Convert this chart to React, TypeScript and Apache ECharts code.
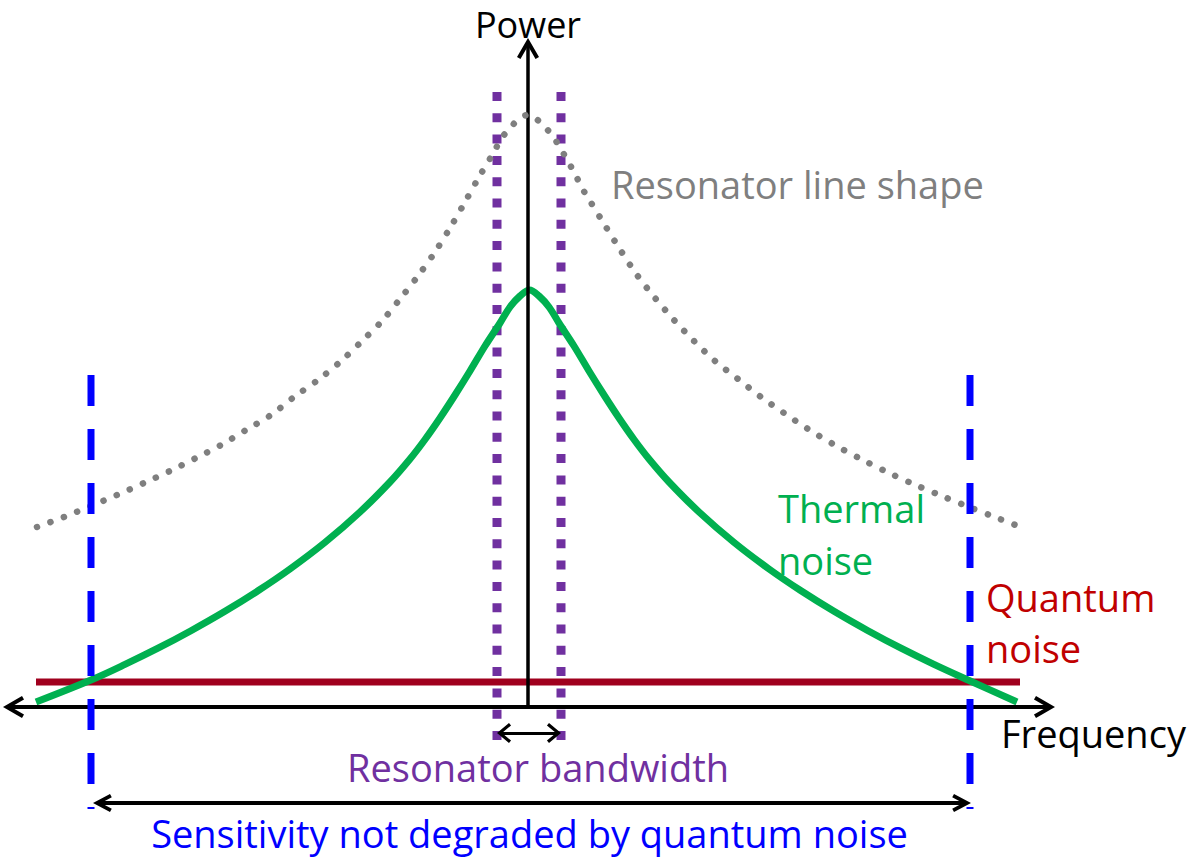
import React, { useEffect, useRef } from "react";
import * as echarts from "echarts";

// Frequency offset from the resonance (1 unit = 10 px), power (1 unit = 10 px above the frequency axis)
const resonatorFreq = [
  -49.1, -46.4, -43.7, -41.1, -38.4, -35.8, -33.2, -30.7, -28.2, -25.7, -23.4, -21.0, -18.8, -16.7,
  -14.6, -12.8, -11.0, -9.3, -7.8, -6.3, -4.9, -3.4, -2.7, -1.8, -0.8, 0.0,
  0.7, 1.7, 2.6, 3.4, 4.1, 4.8, 5.4, 6.2, 7.8, 9.3, 10.9, 12.7, 14.6, 16.6, 18.7, 21.0, 23.3,
  25.6, 28.0, 30.5, 33.1, 35.7, 38.3, 40.9, 43.6, 46.4, 49.0,
];
const resonatorPower = [
  18.0, 19.0, 20.1, 21.2, 22.4, 23.6, 24.9, 26.2, 27.7, 29.2, 31.0, 32.7, 34.5, 36.5,
  38.6, 40.8, 43.1, 45.5, 47.9, 50.5, 53.0, 55.5, 56.8, 57.9, 58.9, 59.2,
  58.9, 58.0, 56.9, 55.6, 54.4, 53.1, 51.9, 50.6, 48.0, 45.6, 43.2, 40.9, 38.7, 36.6, 34.6, 32.8, 31.0,
  29.4, 27.8, 26.3, 24.9, 23.6, 22.4, 21.3, 20.2, 19.1, 18.1,
];

const thermalFreq = [
  -49.2, -43.7, -40.3, -37.0, -33.7, -30.3, -27.0, -23.8, -20.3, -16.8, -13.8, -11.8, -10.3, -8.8,
  -7.3, -5.8, -4.3, -2.8, -1.8, -0.8, 0.15,
  1.1, 2.1, 3.1, 4.6, 6.1, 7.6, 9.1, 10.6, 12.1, 14.1, 17.1, 20.6, 24.1, 27.3, 30.6, 34.0,
  37.3, 40.6, 44.0, 48.9,
];
const thermalPower = [
  0.5, 2.7, 4.26, 5.88, 7.63, 9.57, 11.62, 13.8, 16.46, 19.5, 22.5, 24.8, 26.75, 28.9,
  31.2, 33.6, 36.1, 38.4, 40.0, 41.1, 41.7,
  41.1, 40.0, 38.4, 36.1, 33.6, 31.2, 28.9, 26.75, 24.8, 22.5, 19.5, 16.46, 13.8, 11.62, 9.57, 7.63,
  5.88, 4.26, 2.7, 0.5,
];

const quantumFreq = [-49.2, 49.2];
const quantumPower = 2.5;

const bandwidthEdges = [-3.1, 3.3];
const bandwidthSpan = [61.5, -3.3];
const sensitivityEdges = [-43.7, 44.2];
const sensitivitySpan = [33.2, -10.2];

const freqAxisSpan = [-52.0, 52.2];
const powerAxisTop = 66.4;
const bandwidthArrow = { power: -2.6, freq: [-2.7, 2.9] };
const sensitivityArrow = { power: -9.6, freq: [-43.0, 43.8] };

const FONT = "'Open Sans', 'Noto Sans', sans-serif";

function chevron(hw: number, len: number, t: number, c: number) {
  const th = Math.atan2(hw, len);
  const ix = hw - t * Math.cos(th);
  const iy = len + t * Math.sin(th);
  const d = t / Math.sin(th);
  const H = iy;
  const top = 2 * c - H;
  const p =
    `path://M0,0 L${hw},${len} L${ix.toFixed(2)},${iy.toFixed(2)} L0,${d.toFixed(2)} ` +
    `L${(-ix).toFixed(2)},${iy.toFixed(2)} L${-hw},${len} Z ` +
    `M0,${top.toFixed(2)} L0.001,${top.toFixed(2)} Z`;
  return { symbol: p, symbolSize: [2 * hw, H - top] };
}

export default function App() {
  const ref = useRef<HTMLDivElement>(null);
  useEffect(() => {
    if (!ref.current) return;
    const chart = echarts.init(ref.current, undefined, { renderer: "svg" });
    const axisHead = chevron(11, 19, 4, 5);
    const smallHead = chevron(10, 12, 3.2, 4);
    const bigHead = chevron(9, 17, 3.8, 5);
    const base = {
      type: "line" as const,
      showSymbol: false,
      symbol: "none",
      silent: true,
      animation: false,
      emphasis: { disabled: true },
      clip: false,
    };
    const label = (text: string, x: number, y: number, fill: string, fontSize: number, align = "left") => ({
      type: "text",
      x,
      y,
      silent: true,
      style: { text, fill, fontSize, fontFamily: FONT, align, verticalAlign: "middle" },
    });
    chart.setOption({
      animation: false,
      backgroundColor: "#ffffff",
      grid: { left: 0, right: 0, top: 0, bottom: 0, containLabel: false },
      xAxis: { type: "value", min: -52.8, max: 66.8, show: false, splitLine: { show: false } },
      yAxis: { type: "value", min: -15.4, max: 70.7, show: false, splitLine: { show: false } },
      series: [
        {
          ...base,
          name: "axes",
          z: 1,
          data: [],
          markLine: {
            silent: true,
            animation: false,
            label: { show: false },
            emphasis: { disabled: true },
            symbol: ["none", "none"],
            lineStyle: { color: "#000000", width: 4, type: "solid" },
            data: [
              [
                { coord: [freqAxisSpan[0], 0], ...axisHead },
                { coord: [freqAxisSpan[1], 0], ...axisHead },
              ],
              [
                { coord: [0, 0], symbol: "none" },
                { coord: [0, powerAxisTop], ...axisHead, lineStyle: { width: 3.5 } },
              ],
              [
                { coord: [bandwidthArrow.freq[0], bandwidthArrow.power], ...smallHead, lineStyle: { width: 3 } },
                { coord: [bandwidthArrow.freq[1], bandwidthArrow.power], ...smallHead },
              ],
              [
                { coord: [sensitivityArrow.freq[0], sensitivityArrow.power], ...bigHead },
                { coord: [sensitivityArrow.freq[1], sensitivityArrow.power], ...bigHead },
              ],
            ],
          },
        },
        {
          ...base,
          name: "Quantum noise",
          z: 2,
          data: quantumFreq.map((f) => [f, quantumPower]),
          lineStyle: { color: "#a0001e", width: 7, cap: "butt" },
        },
        ...bandwidthEdges.map((f) => ({
          ...base,
          name: "Resonator bandwidth",
          z: 3,
          data: bandwidthSpan.map((p) => [f, p]),
          lineStyle: { color: "#7030a0", width: 9, type: [9, 12.3], cap: "butt" },
        })),
        {
          ...base,
          name: "Thermal noise",
          z: 4,
          smooth: 0.35,
          data: thermalFreq.map((f, i) => [f, thermalPower[i]]),
          lineStyle: { color: "#00b050", width: 7, cap: "butt" },
        },
        {
          ...base,
          name: "Resonator line shape",
          z: 5,
          smooth: 0.3,
          data: resonatorFreq.map((f, i) => [f, resonatorPower[i]]),
          lineStyle: { color: "#7f7f7f", width: 6.5, type: [0.1, 14.2], cap: "round" },
        },
        ...sensitivityEdges.map((f) => ({
          ...base,
          name: "Sensitivity",
          z: 6,
          data: sensitivitySpan.map((p) => [f, p]),
          lineStyle: { color: "#0000ff", width: 7, type: [31, 23], cap: "butt" },
        })),
      ],
      graphic: [
        label("Power", 528, 24.7, "#000000", 36, "center"),
        label("Resonator line shape", 611, 184.3, "#7f7f7f", 38),
        label("Thermal", 778, 508.3, "#00b050", 38),
        label("noise", 778, 560.3, "#00b050", 38),
        label("Quantum", 986, 597.3, "#c00000", 38),
        label("noise", 986, 648.3, "#c00000", 38),
        label("Frequency", 1001, 733.3, "#000000", 38),
        label("Resonator bandwidth", 538, 767.3, "#7030a0", 38, "center"),
        label("Sensitivity not degraded by quantum noise", 529.5, 833.3, "#0000ff", 38, "center"),
      ],
    });
    return () => chart.dispose();
  }, []);
  return (
    <div
      ref={ref}
      style={{ position: "absolute", left: 0, top: 0, width: 1196, height: 861, background: "#fff" }}
    />
  );
}
